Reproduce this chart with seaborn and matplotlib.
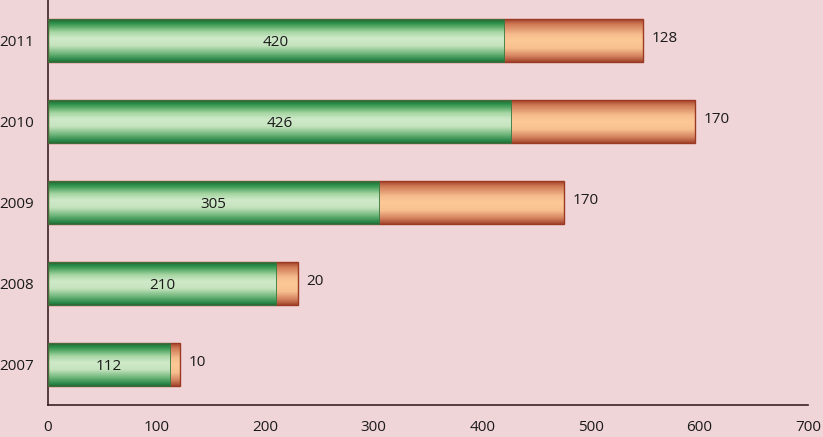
import numpy as np
import pandas as pd
import matplotlib
matplotlib.use("Agg")
import matplotlib.pyplot as plt
import seaborn as sns
from matplotlib.colors import LinearSegmentedColormap

years = ["2011", "2010", "2009", "2008", "2007"]
green_vals = [420, 426, 305, 210, 112]
orange_vals = [128, 170, 170, 20, 10]
x_ticks = [0, 100, 200, 300, 400, 500, 600, 700]

bg = "#f0d5d8"
axis_col = "#3b2222"

sns.set_theme(style="white")
plt.rcParams["font.family"] = ["Open Sans", "DejaVu Sans"]

df = pd.DataFrame({"year": years, "green": green_vals, "orange": orange_vals})
df["total"] = df["green"] + df["orange"]

fig = plt.figure(figsize=(8.23, 4.37), dpi=100, facecolor=bg)
ax = fig.add_axes([48 / 823, 1 - 405 / 437, 760 / 823, 405 / 437])
ax.set_facecolor(bg)

bw = 0.53
sns.barplot(data=df, x="total", y="year", order=years, orient="h",
            width=bw, color="#f7b98a", ax=ax)
sns.barplot(data=df, x="green", y="year", order=years, orient="h",
            width=bw, color="#8fcf8f", ax=ax)

green_cmap = LinearSegmentedColormap.from_list("g", [
    (0.0, "#0f6e35"), (0.12, "#3a9852"), (0.3, "#a6d6a2"), (0.45, "#d0eaca"),
    (0.62, "#c4e3bd"), (0.82, "#66b173"), (1.0, "#127538")])
orange_cmap = LinearSegmentedColormap.from_list("o", [
    (0.0, "#a2412a"), (0.12, "#cf7a55"), (0.35, "#f6bb8d"), (0.5, "#fcc996"),
    (0.68, "#f8c090"), (0.86, "#d58460"), (1.0, "#a3432b")])
grad = np.linspace(0, 1, 256).reshape(-1, 1)

tot_patches = ax.containers[0].patches
grn_patches = ax.containers[1].patches
for pt, pg, g, o in zip(tot_patches, grn_patches, green_vals, orange_vals):
    y0 = pg.get_y()
    h = pg.get_height()
    ax.imshow(grad, cmap=green_cmap, aspect="auto", origin="upper",
              extent=[0, g, y0 + h, y0], zorder=2, interpolation="bilinear")
    ax.imshow(grad, cmap=orange_cmap, aspect="auto", origin="upper",
              extent=[g, g + o, y0 + h, y0], zorder=2, interpolation="bilinear")
    pg.set_facecolor("none")
    pg.set_edgecolor("#2a7a40")
    pg.set_linewidth(0.6)
    pg.set_zorder(3)
    pt.set_facecolor("none")
    pt.set_edgecolor("#9a3a22")
    pt.set_linewidth(1.0)
    pt.set_zorder(3)
    yc = y0 + h / 2
    ax.text(g / 2, yc + 0.03, str(g), ha="center", va="center",
            fontsize=11, color="#1a1a1a", zorder=4)
    ax.text(g + o + 8, yc - 0.03, str(o), ha="left", va="center",
            fontsize=11, color="#1a1a1a", zorder=4)

ax.set_xlim(0, 700)
ax.set_ylim(4.5, -0.5)
ax.set_xticks(x_ticks)
ax.set_xticklabels([str(t) for t in x_ticks], fontsize=11, color="#1a1a1a")
ax.set_yticks(range(len(years)))
ax.set_yticklabels(years, fontsize=11, color="#1a1a1a")
ax.set_yticks(np.arange(-0.5, 5, 1), minor=True)
ax.tick_params(axis="y", which="major", length=0, pad=10)
ax.tick_params(axis="y", which="minor", length=5, width=1, color=axis_col, direction="out")
ax.tick_params(axis="x", which="major", length=5, width=1, color=axis_col,
               direction="out", pad=6)
ax.set_xlabel("")
ax.set_ylabel("")

for s in ["top", "right"]:
    ax.spines[s].set_visible(False)
for s in ["left", "bottom"]:
    ax.spines[s].set_color(axis_col)
    ax.spines[s].set_linewidth(1.2)

fig.savefig("out.png", dpi=100, facecolor=bg)
